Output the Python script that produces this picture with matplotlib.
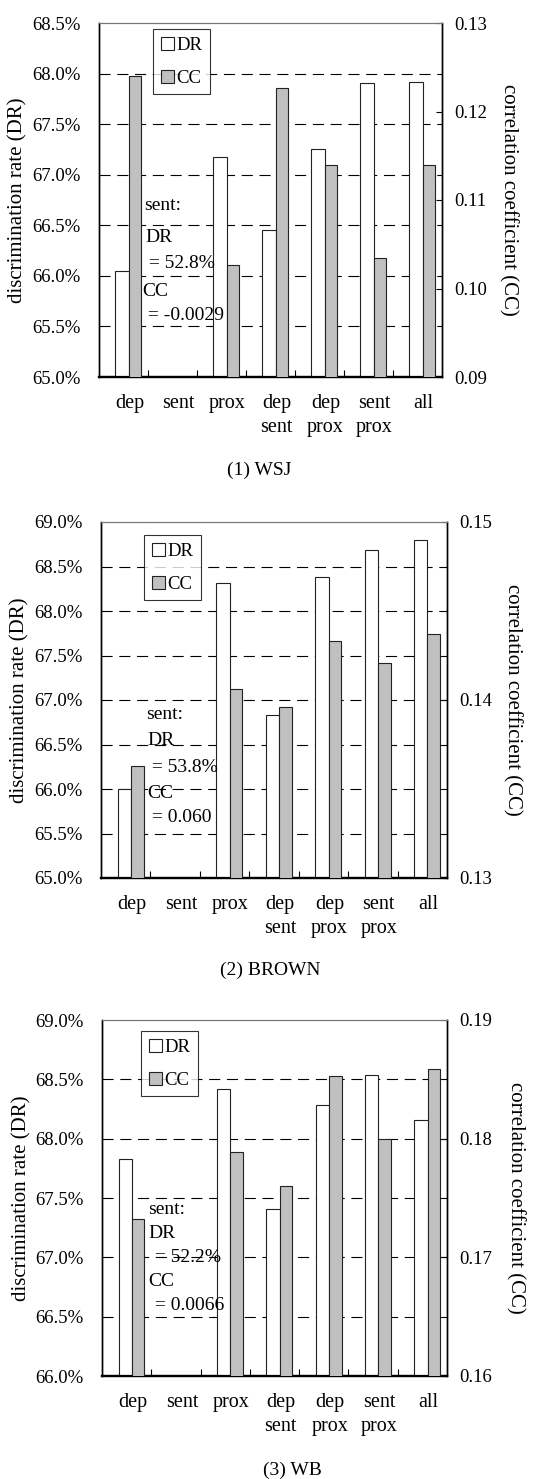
import matplotlib
matplotlib.use("Agg")
import matplotlib.pyplot as plt
import numpy as np
from matplotlib.patches import Patch
from matplotlib.ticker import FormatStrFormatter, FixedLocator

plt.rcParams['font.family'] = ['Liberation Serif', 'DejaVu Serif']

# data (sent values are far below the shown ranges)
categories = ["dep", "sent", "prox", "dep\nsent", "dep\nprox", "sent\nprox", "all"]

wsj_dr = [66.05, 52.8, 67.18, 66.45, 67.25, 67.91, 67.92]
wsj_cc = [0.1240, -0.0029, 0.1026, 0.1227, 0.1139, 0.1034, 0.1139]

brown_dr = [66.00, 53.8, 68.31, 66.83, 68.38, 68.68, 68.80]
brown_cc = [0.1363, 0.060, 0.1406, 0.1396, 0.1433, 0.1421, 0.1437]

wb_dr = [67.83, 52.2, 68.42, 67.41, 68.28, 68.54, 68.16]
wb_cc = [0.1732, 0.0066, 0.1789, 0.1760, 0.1853, 0.1800, 0.1859]

wsj_dr_ticks = [65.0, 65.5, 66.0, 66.5, 67.0, 67.5, 68.0, 68.5]
wsj_cc_ticks = [0.09, 0.10, 0.11, 0.12, 0.13]
brown_dr_ticks = [65.0, 65.5, 66.0, 66.5, 67.0, 67.5, 68.0, 68.5, 69.0]
brown_cc_ticks = [0.13, 0.14, 0.15]
wb_dr_ticks = [66.0, 66.5, 67.0, 67.5, 68.0, 68.5, 69.0]
wb_cc_ticks = [0.16, 0.17, 0.18, 0.19]

W, H = 555, 1479
fig = plt.figure(figsize=(W / 100, H / 100), dpi=100)


def fx(px):
    return px / W


def fy(py):
    return 1 - py / H


def panel(box, dr, cc, dr_ticks, cc_ticks, note, caption, cap_xy, ylab_x):
    x0, y0, x1, y1 = box
    ax = fig.add_axes([fx(x0), fy(y1), (x1 - x0) / W, (y1 - y0) / H])
    ax2 = ax.twinx()
    x = np.arange(len(categories))

    ax.bar(x - 0.03, dr, width=0.27, color='white', edgecolor='#222222',
           linewidth=0.8, zorder=3)
    ax2.bar(x + 0.2325, cc, width=0.255, color='#c0c0c0', edgecolor='#222222',
            linewidth=0.8, zorder=3)

    ax.set_xlim(-0.5, len(categories) - 0.5)
    ax.set_ylim(dr_ticks[0], dr_ticks[-1])
    ax2.set_ylim(cc_ticks[0], cc_ticks[-1])
    ax.set_yticks(dr_ticks)
    ax2.set_yticks(cc_ticks)
    ax.yaxis.set_major_formatter(FormatStrFormatter('%.1f%%'))
    ax2.yaxis.set_major_formatter(FormatStrFormatter('%.2f'))

    for v in dr_ticks[1:-1]:
        ax.axhline(v, color='black', linewidth=0.8, dashes=(10, 6), zorder=1)

    ax.set_xticks(x + 0.12)
    ax.set_xticklabels(categories, fontsize=14.5, linespacing=1.4)
    ax.xaxis.set_minor_locator(FixedLocator(x[:-1] + 0.5))
    ax.tick_params(axis='x', which='major', length=0, pad=12)
    ax.tick_params(axis='x', which='minor', direction='in', length=5, width=0.8)
    ax.tick_params(axis='y', length=0, labelsize=13.5, pad=13)
    ax2.tick_params(axis='y', direction='in', length=4, width=0.8,
                    labelsize=13.5, pad=9)

    for a in (ax, ax2):
        a.spines['top'].set_color('#777777')
        a.spines['top'].set_linewidth(0.8)
        a.spines['left'].set_linewidth(1.0)
        a.spines['right'].set_linewidth(1.0)
        a.spines['bottom'].set_linewidth(1.6)

    handles = [Patch(facecolor='white', edgecolor='#222222', linewidth=0.8, label='DR'),
               Patch(facecolor='#c0c0c0', edgecolor='#222222', linewidth=0.8, label='CC')]
    leg_x, leg_y = note['legend']
    leg = ax2.legend(handles=handles, loc='upper left',
                     bbox_to_anchor=(fx(leg_x), fy(leg_y)),
                     bbox_transform=fig.transFigure, fontsize=13.5,
                     frameon=True, fancybox=False, borderpad=0.4,
                     labelspacing=0.85, handlelength=0.7, handleheight=0.7,
                     handletextpad=0.15, borderaxespad=0)
    leg.get_frame().set_edgecolor('black')
    leg.get_frame().set_linewidth(0.8)

    for txt, (tx, ty) in note['lines']:
        fig.text(fx(tx), fy(ty), txt, fontsize=14, ha='left', va='center',
                 zorder=10)

    mid = fy((y0 + y1) / 2)
    fig.text(fx(ylab_x[0]), mid, 'discrimination rate (DR)', rotation=90,
             fontsize=15, ha='center', va='center')
    fig.text(fx(ylab_x[1]), mid, 'correlation coefficient (CC)', rotation=-90,
             fontsize=15, ha='center', va='center')
    fig.text(fx(cap_xy[0]), fy(cap_xy[1]), caption, fontsize=14,
             ha='center', va='center')


panel((99, 23, 442, 377), wsj_dr, wsj_cc, wsj_dr_ticks, wsj_cc_ticks,
      {'legend': (153, 29),
       'lines': [('sent:', (144, 205)), ('DR', (145, 237)),
                 (' = 52.8%', (144, 264)), ('CC', (142, 291)),
                 (' = -0.0029', (143, 315))]},
      '(1) WSJ', (259, 470), (18, 508))

panel((101, 522, 447, 878), brown_dr, brown_cc, brown_dr_ticks, brown_cc_ticks,
      {'legend': (144, 535),
       'lines': [('sent:', (146, 715)), ('DR', (147, 740)),
                 (' = 53.8%', (147, 767)), ('CC', (147, 793)),
                 (' = 0.060', (147, 818))]},
      '(2) BROWN', (270, 970), (20, 512))

panel((102, 1020, 447, 1376), wb_dr, wb_cc, wb_dr_ticks, wb_cc_ticks,
      {'legend': (141, 1031),
       'lines': [('sent:', (148, 1210)), ('DR', (148, 1233)),
                 (' = 52.2%', (150, 1257)), ('CC', (148, 1281)),
                 (' = 0.0066', (150, 1305))]},
      '(3) WB', (292, 1470), (22, 515))

fig.savefig('out.png', dpi=100)
